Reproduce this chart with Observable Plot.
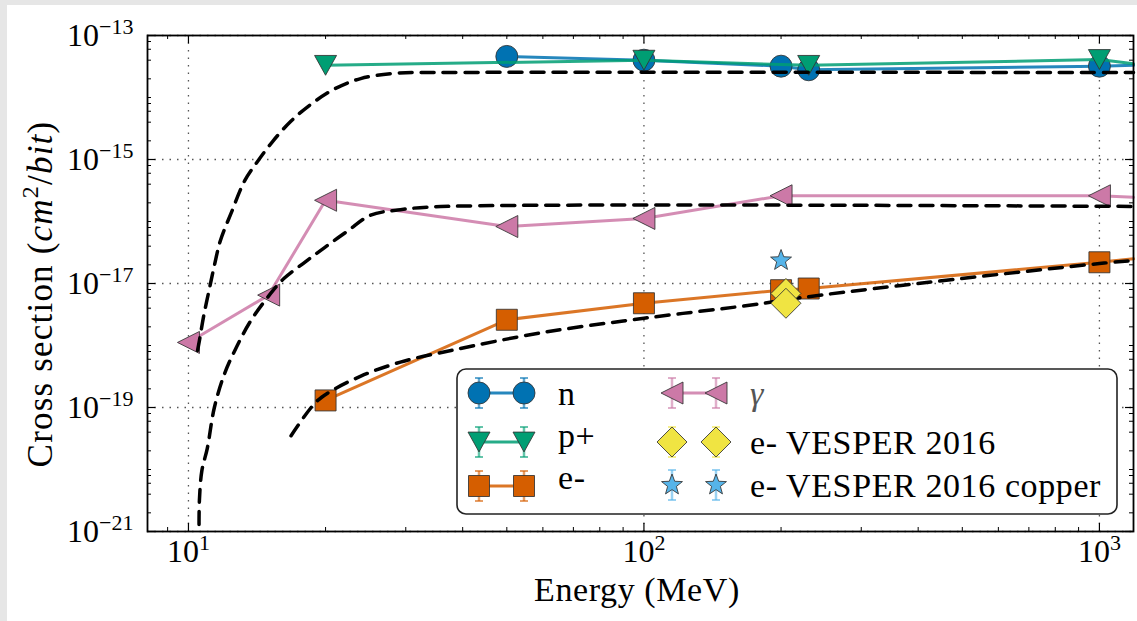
<!DOCTYPE html>
<html><head><meta charset="utf-8">
<script src="https://cdn.jsdelivr.net/npm/d3@7"></script>
<script src="https://cdn.jsdelivr.net/npm/@observablehq/plot@0.6"></script>
<style>
html,body{margin:0;padding:0;background:#e6e6e6;width:1137px;height:621px;overflow:hidden;}
#panel{position:absolute;left:7px;top:5px;width:1130px;height:616px;background:#fff;}
</style></head><body><div id="panel"></div>
<script>
// ---------- data ----------
const xDomain = [8.13, 1188];
const yDomain = [1e-21, 1e-13];
const xMajorTicks = [10, 100, 1000];
const xMinorTicks = [9, 20, 30, 40, 50, 60, 70, 80, 90, 200, 300, 400, 500, 600, 700, 800, 900];
const yMajorTicks = [1e-13, 1e-15, 1e-17, 1e-19, 1e-21];
const yMinorSubs = [1, 2, 4, 6, 8];
const seriesNames = ["n", "p+", "e-", "γ", "e- VESPER 2016", "e- VESPER 2016 copper"];
const seriesColors = ["#0072B2", "#009E73", "#D55E00", "#CC79A7", "#F0E442", "#56B4E9"];

// neutrons
const nEnergy = [50, 100, 200, 230, 1000];
const nSigma = [4.6e-14, 4.0e-14, 3.2e-14, 2.8e-14, 3.2e-14];
// protons
const pEnergy = [20, 100, 230, 1000];
const pSigma = [3.3e-14, 4.0e-14, 3.3e-14, 4.1e-14];
// electrons
const eEnergy = [20, 50, 100, 200, 230, 1000];
const eSigma = [1.3e-19, 2.6e-18, 4.8e-18, 7.8e-18, 8.3e-18, 2.2e-17];
// gammas
const gEnergy = [10, 15, 20, 50, 100, 200, 1000];
const gSigma = [1.12e-18, 6.5e-18, 2.2e-16, 8.3e-17, 1.12e-16, 2.6e-16, 2.6e-16];
// line continuation at the right border (E = 1188 MeV)
const edgeEnergy = 1188;
const edgeSigma = {n: 3.3e-14, p: 3.5e-14, e: 2.5e-17, g: 2.45e-16};
// VESPER 2016
const vEnergy = [205, 205];
const vSigma = [6.9e-18, 4.8e-18];
const cEnergy = [200];
const cSigma = [2.35e-17];

// dashed fit curves
const fitHadronE = [10.47, 10.57, 10.8, 11.1, 11.4, 11.75, 12.4, 13.3, 14.18, 15.3, 16.76, 18.54, 20.83, 23.88, 28.8, 35.8, 1188];
const fitHadronS = [8.3e-19, 1.2e-18, 3.0e-18, 7.8e-18, 1.95e-17, 4.9e-17, 1.35e-16, 4.6e-16, 9.3e-16, 1.95e-15, 4.1e-15, 7.7e-15, 1.35e-14, 2.02e-14, 2.48e-14, 2.53e-14, 2.53e-14];
const fitGammaE = [10.55, 10.57, 10.7, 11.0, 11.4, 12.0, 12.8, 13.7, 14.9, 16.2, 18.0, 19.9, 22.4, 25.1, 29.2, 35.8, 1188];
const fitGammaS = [1.3e-21, 3.2e-21, 9.5e-21, 2.2e-20, 1.0e-19, 3.5e-19, 1.0e-18, 2.5e-18, 5.9e-18, 1.2e-17, 2.2e-17, 3.8e-17, 7.1e-17, 1.26e-16, 1.55e-16, 1.74e-16, 1.75e-16];
const fitElectronE = [16.8, 18.9, 20.2, 23.9, 29.2, 37.7, 59.4, 100, 172, 221, 367, 1000, 1188];
const fitElectronS = [3.5e-20, 1.15e-19, 1.7e-19, 3.2e-19, 5.4e-19, 8.3e-19, 1.6e-18, 2.75e-18, 4.5e-18, 5.9e-18, 9.3e-18, 2.1e-17, 2.35e-17];

// ---------- helpers ----------
const rows = (E, S) => E.map((e, i) => ({E: e, s: S[i]}));
const yMinorTicks = [];
for (let k = -21; k < -13; k++) for (const m of yMinorSubs) { if (!(m === 1 && (k % 2 !== 0))) yMinorTicks.push(m * Math.pow(10, k)); }

function sym(fn) { return {draw(c, size) { const r = Math.sqrt(size / Math.PI); fn(c, r); }}; }
const symCircle = sym((c, r) => { c.moveTo(r, 0); c.arc(0, 0, r, 0, 2 * Math.PI); c.closePath(); });
const symTriDown = sym((c, r) => { c.moveTo(-r, -0.9 * r); c.lineTo(r, -0.9 * r); c.lineTo(0, 0.9 * r); c.closePath(); });
const symTriLeft = sym((c, r) => { c.moveTo(-r, 0); c.lineTo(r, -r); c.lineTo(r, r); c.closePath(); });
const symSquare = sym((c, r) => { c.moveTo(-r, -r); c.lineTo(r, -r); c.lineTo(r, r); c.lineTo(-r, r); c.closePath(); });
const symDiamond = sym((c, r) => { c.moveTo(0, -r); c.lineTo(r, 0); c.lineTo(0, r); c.lineTo(-r, 0); c.closePath(); });
const symStar = sym((c, r) => { for (let i = 0; i < 10; i++) { const a = -Math.PI / 2 + i * Math.PI / 5; const rr = i % 2 ? r * 0.42 : r; const x = rr * Math.cos(a), y = rr * Math.sin(a); if (i) c.lineTo(x, y); else c.moveTo(x, y); } c.closePath(); });

const W = 1130, H = 616, mL = 140, mR = 4, mT = 30, mB = 90;
const innerW = W - mL - mR, innerH = H - mT - mB;
const edge = "#333";
const lineW = 3;
const SERIF = "'Liberation Serif', 'DejaVu Serif', serif";

function series(E, S, edgeS, color, symbol, r) {
  const data = rows(E, S);
  return [
    Plot.line([...data, {E: edgeEnergy, s: edgeS}], {x: "E", y: "s", stroke: color, strokeWidth: lineW, strokeOpacity: 0.85}),
    Plot.dot(data, {x: "E", y: "s", symbol, r, fill: color, stroke: edge, strokeWidth: 1, strokeOpacity: 0.85})
  ];
}
const sup = (d) => "10^" + String(Math.round(Math.log10(d))).replace("-", "\u2212");

const chart = Plot.plot({
  width: W, height: H,
  marginLeft: mL, marginRight: mR, marginTop: mT, marginBottom: mB,
  x: {type: "log", domain: xDomain, axis: null},
  y: {type: "log", domain: yDomain, axis: null},
  style: {fontFamily: SERIF, background: "white", color: "black", overflow: "visible"},
  marks: [
    Plot.gridX(xMajorTicks, {stroke: "#555", strokeOpacity: 1, strokeWidth: 1.3, strokeDasharray: "1.5,6"}),
    Plot.gridY(yMajorTicks, {stroke: "#555", strokeOpacity: 1, strokeWidth: 1.3, strokeDasharray: "1.5,6"}),
    // inward ticks
    Plot.tickX(xMajorTicks, {x: d => d, insetTop: innerH - 8, stroke: "black", strokeWidth: 1.2}),
    Plot.tickX(xMajorTicks, {x: d => d, insetBottom: innerH - 8, stroke: "black", strokeWidth: 1.2}),
    Plot.tickX(xMinorTicks, {x: d => d, insetTop: innerH - 4, stroke: "black", strokeWidth: 1}),
    Plot.tickX(xMinorTicks, {x: d => d, insetBottom: innerH - 4, stroke: "black", strokeWidth: 1}),
    Plot.tickY(yMajorTicks, {y: d => d, insetRight: innerW - 8, stroke: "black", strokeWidth: 1.2}),
    Plot.tickY(yMajorTicks, {y: d => d, insetLeft: innerW - 8, stroke: "black", strokeWidth: 1.2}),
    Plot.tickY(yMinorTicks, {y: d => d, insetRight: innerW - 4, stroke: "black", strokeWidth: 1}),
    Plot.tickY(yMinorTicks, {y: d => d, insetLeft: innerW - 4, stroke: "black", strokeWidth: 1}),
    Plot.axisX(xMajorTicks, {anchor: "bottom", tickSize: 0, tickPadding: 8, fontSize: 32, tickFormat: sup, label: null}),
    Plot.axisY(yMajorTicks, {anchor: "left", tickSize: 0, tickPadding: 14, fontSize: 32, tickFormat: sup, label: null}),
    ...series(nEnergy, nSigma, edgeSigma.n, seriesColors[0], symCircle, 11),
    ...series(pEnergy, pSigma, edgeSigma.p, seriesColors[1], symTriDown, 11),
    ...series(eEnergy, eSigma, edgeSigma.e, seriesColors[2], symSquare, 10.5),
    ...series(gEnergy, gSigma, edgeSigma.g, seriesColors[3], symTriLeft, 11),
    Plot.line(rows(fitHadronE, fitHadronS), {x: "E", y: "s", stroke: "black", strokeWidth: 3.5, strokeDasharray: "13,9", curve: "catmull-rom"}),
    Plot.line(rows(fitGammaE, fitGammaS), {x: "E", y: "s", stroke: "black", strokeWidth: 3.5, strokeDasharray: "13,9", curve: "catmull-rom"}),
    Plot.line(rows(fitElectronE, fitElectronS), {x: "E", y: "s", stroke: "black", strokeWidth: 3.5, strokeDasharray: "13,9", curve: "catmull-rom"}),
    Plot.dot(rows(vEnergy, vSigma), {x: "E", y: "s", symbol: symDiamond, r: 15, fill: seriesColors[4], stroke: edge, strokeWidth: 1, strokeOpacity: 0.85}),
    Plot.dot(rows(cEnergy, cSigma), {x: "E", y: "s", symbol: symStar, r: 11, fill: seriesColors[5], stroke: edge, strokeWidth: 1, strokeOpacity: 0.85}),
    Plot.frame({stroke: "black", strokeWidth: 1.8})
  ]
});
document.getElementById("panel").appendChild(chart);

const svg = d3.select(chart);
// superscript tick labels
svg.selectAll('g[aria-label="x-axis tick label"] text, g[aria-label="y-axis tick label"] text').each(function () {
  const s = this.textContent; const i = s.indexOf("^"); if (i < 0) return;
  const t = d3.select(this); t.text(null);
  t.append("tspan").text(s.slice(0, i));
  t.append("tspan").attr("dy", -12).style("font-size", "22px").text(s.slice(i + 1));
});

// axis titles
svg.append("text").attr("x", 630).attr("y", 596).attr("text-anchor", "middle")
  .style("font-family", SERIF).style("font-size", "34px").style("letter-spacing", "0.6px").text("Energy (MeV)");
const yl = svg.append("text").attr("transform", "translate(45,289) rotate(-90)").attr("text-anchor", "middle")
  .style("font-family", SERIF).style("font-size", "35px").style("letter-spacing", "1.2px");
yl.append("tspan").text("Cross section (");
yl.append("tspan").style("font-style", "italic").text("cm");
yl.append("tspan").style("font-size", "24px").attr("dy", -14).text("2");
yl.append("tspan").attr("dy", 14).text("/");
yl.append("tspan").style("font-style", "italic").text("bit");
yl.append("tspan").text(")");

// legend
const L = svg.append("g");
L.append("rect").attr("x", 450).attr("y", 364).attr("width", 660).attr("height", 145).attr("rx", 9)
  .attr("fill", "white").attr("stroke", "#222").attr("stroke-width", 1.6);
const legend = [
  {i: 0, sym: symCircle, r: 11, line: true, mx: [472, 517], my: 388, tx: 551, ty: 400},
  {i: 1, sym: symTriDown, r: 11, line: true, mx: [472, 517], my: 437, tx: 551, ty: 442},
  {i: 2, sym: symSquare, r: 10.5, line: true, mx: [472, 517], my: 481, tx: 551, ty: 484},
  {i: 3, sym: symTriLeft, r: 11, line: true, mx: [665, 709], my: 388, tx: 743, ty: 400, italic: true},
  {i: 4, sym: symDiamond, r: 15, line: false, mx: [665, 709], my: 437, tx: 743, ty: 449},
  {i: 5, sym: symStar, r: 11, line: false, mx: [665, 709], my: 480, tx: 743, ty: 492}
];
for (const it of legend) {
  const col = seriesColors[it.i];
  if (it.line) L.append("line").attr("x1", it.mx[0]).attr("x2", it.mx[1]).attr("y1", it.my).attr("y2", it.my)
    .attr("stroke", col).attr("stroke-width", lineW).attr("stroke-opacity", 0.85);
  for (const x of it.mx) {
    L.append("line").attr("x1", x).attr("x2", x).attr("y1", it.my - 15).attr("y2", it.my + 15)
      .attr("stroke", col).attr("stroke-width", 2.5).attr("stroke-opacity", 0.6);
    for (const dy of [-15, 15]) L.append("line").attr("x1", x - 4).attr("x2", x + 4).attr("y1", it.my + dy).attr("y2", it.my + dy)
      .attr("stroke", col).attr("stroke-width", 2).attr("stroke-opacity", 0.6);
    L.append("path").attr("transform", `translate(${x},${it.my})`)
      .attr("d", d3.symbol().type(it.sym).size(Math.PI * it.r * it.r)())
      .attr("fill", col).attr("stroke", edge).attr("stroke-width", 1).attr("stroke-opacity", 0.85);
  }
  const t = L.append("text").attr("x", it.tx).attr("y", it.ty).attr("text-anchor", "start")
    .style("font-family", SERIF).style("font-size", "34px").style("letter-spacing", "0.6px").text(seriesNames[it.i]);
  if (it.italic) t.style("font-style", "italic").style("fill", "#555");
}
</script></body></html>
